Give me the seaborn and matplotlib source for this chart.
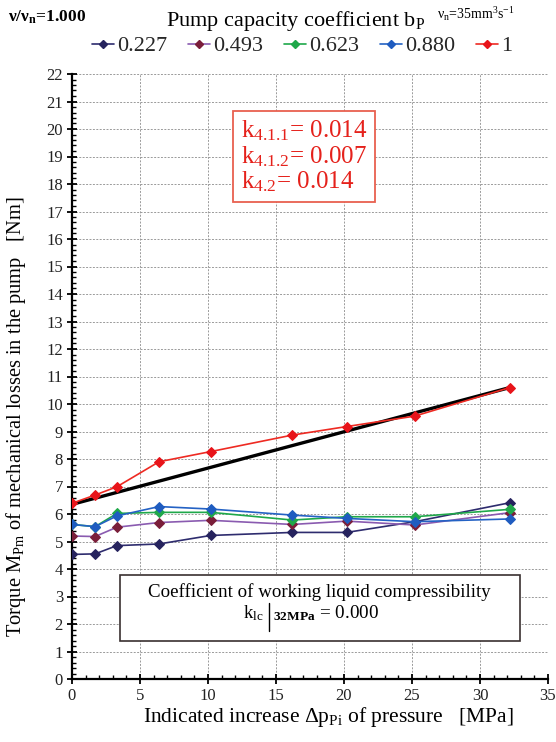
import matplotlib
matplotlib.use("Agg")
import matplotlib.pyplot as plt
import seaborn as sns
import pandas as pd
from matplotlib.ticker import MultipleLocator
from matplotlib.lines import Line2D

sns.set_theme(style="white")
plt.rcParams['font.family'] = ['Liberation Serif', 'DejaVu Serif']
plt.rcParams['mathtext.fontset'] = 'custom'
plt.rcParams['mathtext.rm'] = 'Liberation Serif'
plt.rcParams['mathtext.it'] = 'Liberation Serif:italic'
plt.rcParams['mathtext.bf'] = 'Liberation Serif:bold'

pressure = [0, 1.7, 3.3, 6.4, 10.2, 16.2, 20.2, 25.2, 32.2]
s_0227 = [4.53, 4.55, 4.85, 4.91, 5.22, 5.33, 5.33, 5.72, 6.41]
s_0493 = [5.20, 5.18, 5.52, 5.69, 5.77, 5.62, 5.74, 5.60, 6.05]
s_0623 = [5.62, 5.54, 6.02, 6.06, 6.06, 5.78, 5.90, 5.90, 6.17]
s_0880 = [5.62, 5.54, 5.93, 6.27, 6.18, 5.96, 5.84, 5.72, 5.82]
s_1 = [6.39, 6.69, 6.99, 7.90, 8.27, 8.87, 9.18, 9.56, 10.60]
fit_x = [0, 32.2]
fit_y = [6.35, 10.60]

labels = ["0.227", "0.493", "0.623", "0.880", "1"]
series = [s_0227, s_0493, s_0623, s_0880, s_1]
line_colors = {"0.227": "#2E2C6E", "0.493": "#8A5BB0", "0.623": "#1FA84A",
               "0.880": "#2462C4", "1": "#EE2A22"}
marker_colors = {"0.227": "#26235E", "0.493": "#7A1E3A", "0.623": "#1FA84A",
                 "0.880": "#1F5CC0", "1": "#E8141A"}

rows = []
for lab, vals in zip(labels, series):
    for x, y in zip(pressure, vals):
        rows.append({"p": x, "M": y, "b": lab})
df = pd.DataFrame(rows)

fig = plt.figure(figsize=(5.56, 7.42), dpi=100)
ax = fig.add_axes([72/556, 1-679/742, 476/556, 605/742])

sns.lineplot(data=pd.DataFrame({"x": fit_x, "y": fit_y}), x="x", y="y",
             color="black", lw=2.4, ax=ax, zorder=3)

for lab in labels:
    sub = df[df["b"] == lab]
    sns.lineplot(data=sub, x="p", y="M", color=line_colors[lab], lw=1.2,
                 marker="D", markersize=5, markerfacecolor=marker_colors[lab],
                 markeredgecolor=marker_colors[lab], ax=ax, sort=False, zorder=4)

ax.set_xlim(0, 35)
ax.set_ylim(0, 22)
ax.xaxis.set_major_locator(MultipleLocator(5))
ax.xaxis.set_minor_locator(MultipleLocator(1))
ax.yaxis.set_major_locator(MultipleLocator(1))
ax.yaxis.set_minor_locator(MultipleLocator(0.2))
ax.grid(True, which='major', color='#9a9a9a', ls=(0, (2, 1.5)), lw=0.7)
for s in ['top', 'right']:
    ax.spines[s].set_visible(False)
for s in ['left', 'bottom']:
    ax.spines[s].set_color('black')
    ax.spines[s].set_linewidth(1.6)
ax.tick_params(which='major', direction='inout', length=7, width=1.3, color='black',
               labelsize=12, left=True, bottom=True, pad=3)
ax.tick_params(which='minor', direction='in', length=3, width=1.0, color='black',
               left=True, bottom=True)
for t in ax.get_xticklabels() + ax.get_yticklabels():
    t.set_color('#222222')

ax.set_xlabel(r"Indicated increase $\Delta\mathrm{p_{Pi}}$ of pressure   [MPa]",
              fontsize=15.5, color='black')
ax.xaxis.set_label_coords(0.538, -0.043)
ax.set_ylabel(r"Torque $\mathrm{M_{Pm}}$ of mechanical losses in the pump   [Nm]",
              fontsize=14.8, color='black')
ax.yaxis.set_label_coords(-0.093, 0.433)

ax.text(0.487, 0.8636, r"$\mathrm{k_{4.1.1}}$= 0.014" "\n" r"$\mathrm{k_{4.1.2}}$= 0.007" "\n" r"$\mathrm{k_{4.2}}$= 0.014",
        transform=ax.transAxes, ha='center', va='center', fontsize=18, color='#E5211B',
        linespacing=1.05, multialignment='left',
        bbox=dict(boxstyle='square,pad=0.3', fc='white', ec='#E8604F', lw=1.3), zorder=6)

box = plt.Rectangle((0.101, 0.063), 0.84, 0.109, transform=ax.transAxes,
                    fc='white', ec='#3a3030', lw=1.2, zorder=5)
ax.add_patch(box)
ax.text(0.52, 0.1355, "Coefficient of working liquid compressibility",
        transform=ax.transAxes, ha='center', va='baseline', fontsize=13.6, color='black', zorder=6)
ax.text(0.402, 0.1008, r"k$\mathrm{_{lc}}$", transform=ax.transAxes, ha='right',
        va='baseline', fontsize=13.6, color='black', zorder=6)
ax.plot([0.414, 0.414], [0.0793, 0.1256], transform=ax.transAxes, color='black', lw=1.0,
        zorder=6)
ax.text(0.423, 0.1008, r"$_{\mathbf{32MPa}}$ = 0.000", transform=ax.transAxes, ha='left',
        va='baseline', fontsize=13.8, color='black', zorder=6)

handles = [Line2D([0], [0], color=line_colors[l], lw=1.2, marker='D', markersize=4,
                  markerfacecolor=marker_colors[l], markeredgecolor=marker_colors[l])
           for l in labels]
leg = fig.legend(handles, labels, loc='center', bbox_to_anchor=(0.543, 1 - 46/742),
                 ncol=5, frameon=False, fontsize=16, handlelength=1.0, handletextpad=0.12,
                 columnspacing=0.95, borderaxespad=0.0, borderpad=0.0)

fig.text(0.532, 1 - 21/742, r"Pump capacity coefficient $\mathrm{b_P}$", fontsize=16,
         ha='center', va='center', color='black')
fig.text(0.015, 0.977, r"$\mathbf{\nu/\nu_n}$=1.000", fontsize=12.5, fontweight='bold',
         ha='left', va='center', color='black')
fig.text(0.926, 0.981, r"$\mathrm{\nu_n}$=35mm$^3$s$^{-1}$", fontsize=10,
         ha='right', va='center', color='black')

fig.savefig("out.png", dpi=100)
